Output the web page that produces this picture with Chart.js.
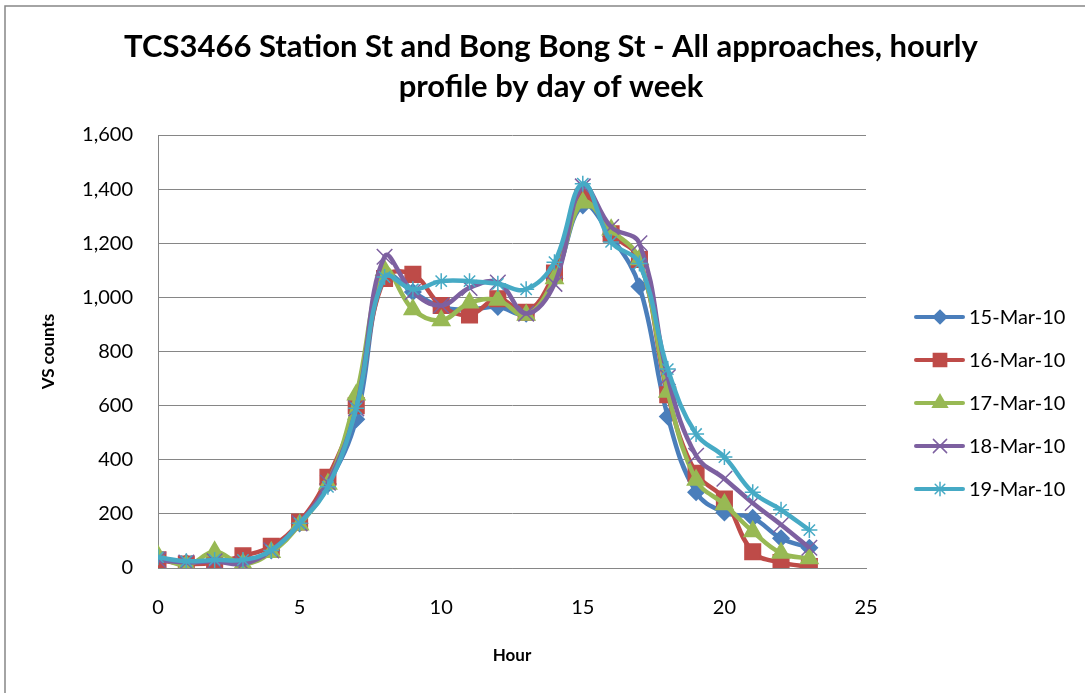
<!DOCTYPE html>
<html>
<head>
<meta charset="utf-8">
<script src="https://cdn.jsdelivr.net/npm/chart.js@4/dist/chart.umd.min.js"></script>
<style>
  html, body { margin: 0; padding: 0; background: #fff; }
  #wrap { width: 1085px; height: 693px; position: relative; }
</style>
</head>
<body>
<div id="wrap"><canvas id="graph_area"></canvas></div>
<script>
// 時間 (0-23)
const hours = [0, 1, 2, 3, 4, 5, 6, 7, 8, 9, 10, 11, 12, 13, 14, 15, 16, 17, 18, 19, 20, 21, 22, 23];

// 日別の台数
const mar15 = [35, 20, 25, 20, 65, 165, 310, 550, 1080, 1020, 965, 955, 965, 940, 1070, 1340, 1225, 1040, 560, 280, 205, 185, 110, 75];
const mar16 = [30, 15, 20, 45, 80, 170, 335, 600, 1070, 1085, 970, 935, 995, 945, 1090, 1370, 1235, 1140, 640, 350, 255, 60, 20, 5];
const mar17 = [45, 10, 60, 15, 58, 160, 310, 640, 1100, 955, 915, 980, 990, 935, 1070, 1350, 1250, 1140, 650, 325, 235, 135, 55, 35];
const mar18 = [30, 20, 25, 15, 65, 165, 315, 590, 1150, 1020, 970, 1035, 1055, 940, 1050, 1410, 1260, 1200, 705, 415, 330, 240, 160, 75];
const mar19 = [40, 25, 30, 30, 65, 165, 300, 590, 1075, 1030, 1060, 1060, 1050, 1030, 1130, 1420, 1205, 1125, 735, 495, 410, 280, 215, 140];

const seriesLabels = ['15-Mar-10', '16-Mar-10', '17-Mar-10', '18-Mar-10', '19-Mar-10'];
const seriesData = [mar15, mar16, mar17, mar18, mar19];
const colors = ['#4A7EBB', '#BE4B48', '#98B954', '#7D60A0', '#46AAC5'];
const markers = ['rectRot', 'rect', 'triangle', 'crossRot', 'star'];
const markerSize = [8, 11, 10, 11, 8];

const GRID = '#868686';
const FONT = 'Lato, "Open Sans", sans-serif';

// 凡例 (線の上にマーカー)
var legendPlugin = {
  id: 'lineLegend',
  afterDraw: function (chart) {
    var ctx = chart.ctx;
    ctx.save();
    chart.data.datasets.forEach(function (ds, i) {
      var y = 317 + i * 43;
      ctx.strokeStyle = ds.borderColor;
      ctx.lineWidth = 4;
      ctx.lineCap = 'round';
      ctx.beginPath();
      ctx.moveTo(916, y);
      ctx.lineTo(963, y);
      ctx.stroke();
      ctx.fillStyle = ds.borderColor;
      ctx.strokeStyle = ds.borderColor;
      ctx.lineWidth = 1.5;
      Chart.helpers.drawPoint(ctx, {
        pointStyle: ds.pointStyle,
        radius: ds.pointRadius * 0.85,
        rotation: 0,
        borderWidth: 1.5
      }, 940, y);
      ctx.fillStyle = '#000';
      ctx.font = '20px ' + FONT;
      ctx.textAlign = 'left';
      ctx.textBaseline = 'middle';
      ctx.fillText(ds.label, 969, y + 1);
    });
    ctx.restore();
  }
};

// 外枠
var borderPlugin = {
  id: 'outerBorder',
  beforeDraw: function (chart) {
    var ctx = chart.ctx;
    ctx.save();
    ctx.fillStyle = '#fff';
    ctx.fillRect(0, 0, chart.width, chart.height);
    ctx.strokeStyle = GRID;
    ctx.lineWidth = 1.5;
    ctx.beginPath();
    ctx.moveTo(5, 720);
    ctx.lineTo(5, 6);
    ctx.lineTo(1100, 6);
    ctx.stroke();
    ctx.restore();
  }
};

const datasets = seriesData.map(function (vals, i) {
  return {
    label: seriesLabels[i],
    data: hours.map(function (h, k) { return { x: h, y: vals[k] }; }),
    borderColor: colors[i],
    backgroundColor: colors[i],
    borderWidth: 4.5,
    pointStyle: markers[i],
    pointRadius: markerSize[i],
    pointBorderWidth: 1.5,
    pointHoverRadius: markerSize[i],
    tension: 0.4,
    yAxisID: 'y',
    order: 4 - i
  };
});

const ctx = document.getElementById('graph_area').getContext('2d');
new Chart(ctx, {
  type: 'line',
  data: { datasets: datasets },
  options: {
    responsive: true,
    maintainAspectRatio: false,
    animation: false,
    layout: { padding: { left: 17, right: 0, top: 0, bottom: 0 } },
    plugins: {
      legend: { display: false },
      tooltip: { enabled: false },
      title: {
        display: true,
        text: ['TCS3466 Station St and Bong Bong St - All approaches, hourly', 'profile by day of week'],
        color: '#000',
        font: { family: FONT, size: 31, weight: 'bold', lineHeight: '40px' },
        padding: { top: 27, bottom: 28 }
      }
    },
    scales: {
      x: {
        type: 'linear',
        min: 0,
        max: 25,
        ticks: { stepSize: 5, color: '#000', padding: 28, font: { family: FONT, size: 20 } },
        grid: { display: false, drawTicks: false },
        border: { display: true, color: GRID, width: 1 },
        title: {
          display: true,
          text: 'Hour',
          color: '#000',
          font: { family: FONT, size: 17, weight: 'bold' },
          padding: { top: 0, bottom: 27 }
        },
        afterFit: function (scale) { scale.height = 125; }
      },
      y: {
        min: 0,
        max: 1600,
        ticks: {
          stepSize: 200,
          color: '#000',
          padding: 25,
          font: { family: FONT, size: 20 },
          callback: function (v) { return v.toLocaleString('en-US'); }
        },
        grid: { color: GRID, lineWidth: 1, drawTicks: false },
        border: { display: true, color: GRID, width: 1 },
        title: {
          display: true,
          text: 'VS counts',
          color: '#000',
          font: { family: FONT, size: 17, weight: 'bold' },
          padding: { top: 21, bottom: 0 }
        },
        afterFit: function (scale) { scale.width = 141; }
      },
      // 凡例用の右側スペース
      legendSpace: {
        type: 'linear',
        position: 'right',
        ticks: { display: false },
        grid: { display: false, drawTicks: false },
        border: { display: false },
        afterFit: function (scale) { scale.width = 219; }
      }
    }
  },
  plugins: [borderPlugin, legendPlugin]
});
</script>
</body>
</html>
